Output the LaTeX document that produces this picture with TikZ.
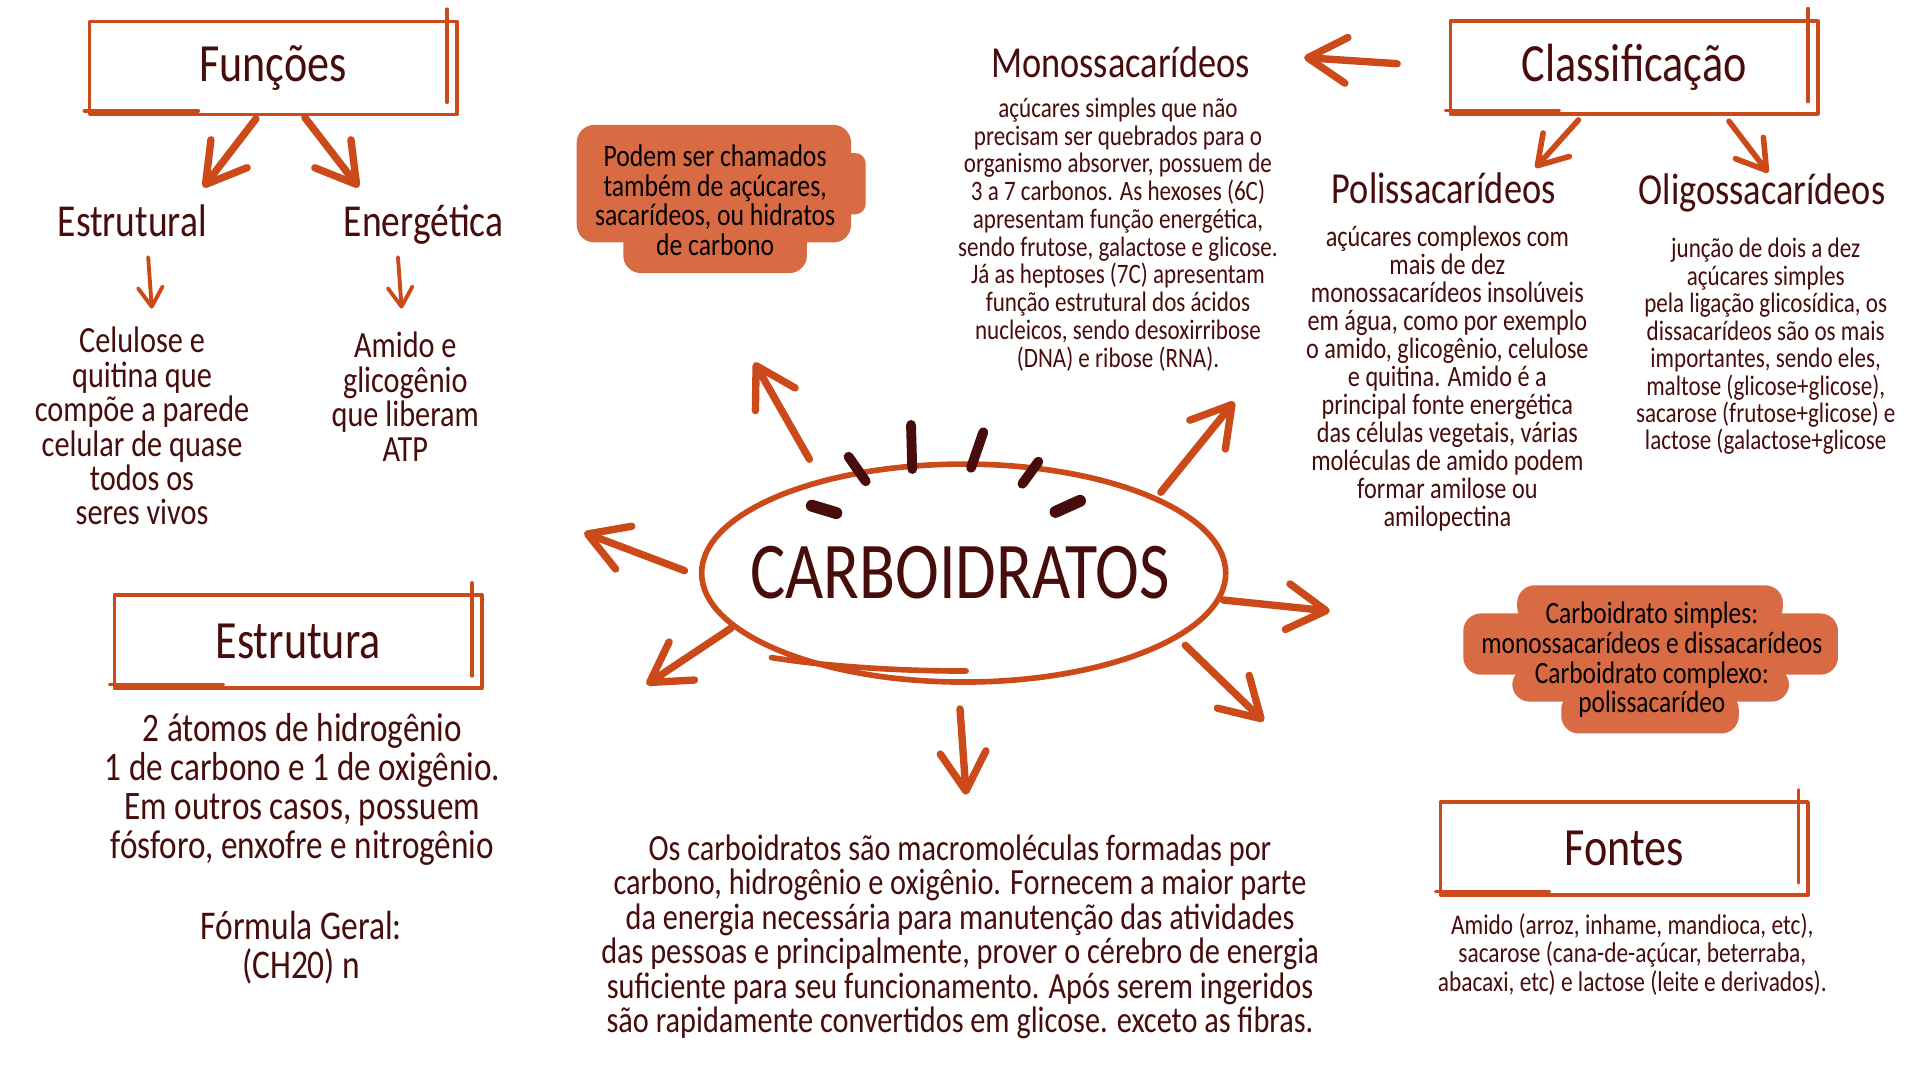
\documentclass[tikz,border=0pt]{standalone}
\usepackage{fontspec}
\setmainfont{Carlito}[FakeStretch=0.82]
\usetikzlibrary{arrows.meta,shapes.geometric,calc}

\definecolor{rust}{HTML}{CC4A1A}
\definecolor{ink}{HTML}{470C0C}
\definecolor{clay}{HTML}{D86A44}
\lineskiplimit=-100pt

\begin{document}
\begin{tikzpicture}[x=0.0122449cm, y=-0.0122449cm, line cap=round, line join=round,
    every node/.style={text=ink, inner sep=0pt, outer sep=0pt, align=center},
    titlebox/.style={draw=rust, line width=1pt, minimum width=3.673cm, minimum height=0.931cm,
      font=\fontsize{15.3}{17}\selectfont},
    sketch/.style={draw=rust, line width=1pt},
    subtitle/.style={font=\fontsize{13}{15}\selectfont, anchor=base},
    heading/.style={font=\fontsize{12.6}{14}\selectfont, anchor=base},
    bigarrow/.style={draw=rust, line width=2.1pt, -{Straight Barb[length=11pt, width=13pt, round]}},
    midarrow/.style={draw=rust, line width=1.6pt, -{Straight Barb[length=8pt, width=10pt, round]}},
    smallarrow/.style={draw=rust, line width=1.1pt, -{Straight Barb[length=5.5pt, width=7pt, round]}},
    tick/.style={draw=ink, line width=2.8pt},
    blob/.style={fill=clay, rounded corners=5pt}]

  % fundo (fixa a moldura)
  \fill[white] (0,0) rectangle (1568,882);

  % ================= caixas de título =================
  \node[titlebox] (funcoes) at (223,55.5) {Funções};
  \node[titlebox] (classif) at (1334.5,55) {Classificação};
  \node[titlebox] (estrutura) at (243.5,524) {Estrutura};
  \node[titlebox] (fontes) at (1326.5,693) {Fontes};
  % traços extras de "rascunho"
  \foreach \n in {funcoes,classif,estrutura,fontes} {
    \draw[sketch] ($(\n.north east)+(-8,-10)$) -- ($(\n.south east)+(-8,-10)$);
    \draw[sketch] ($(\n.south west)+(-4,-3)$) -- ($(\n.south west)+(89,-3)$);
  }

  % ================= Funções =================
  \node[subtitle] (estrutural) at (108,193) {Estrutural};
  \node[subtitle] (energetica) at (346,193) {Energética};
  \node[font=\fontsize{10.5}{9.8}\selectfont] (celulose) at (116,348)
    {Celulose e\\quitina que\\compõe a parede\\celular de quase\\todos os\\seres vivos};
  \node[font=\fontsize{10.5}{9.8}\selectfont] (amido) at (331,324)
    {Amido e\\glicogênio\\que liberam\\ATP};

  \coordinate (fa) at (209,97);  \coordinate (faT) at (166,153);
  \coordinate (fb) at (249,96);  \coordinate (fbT) at (293,153);
  \coordinate (ea) at (121,210); \coordinate (eaT) at (124,252);
  \coordinate (eb) at (325,210); \coordinate (ebT) at (328,252);
  \draw[bigarrow] (fa) -- (faT);
  \draw[bigarrow] (fb) -- (fbT);
  \draw[smallarrow] (ea) -- (eaT);
  \draw[smallarrow] (eb) -- (ebT);

  % ================= Estrutura =================
  \node[font=\fontsize{11.5}{11.1}\selectfont] (estrtxt) at (247,645)
    {2 átomos de hidrogênio\\1 de carbono e 1 de oxigênio.\\Em outros casos, possuem\\fósforo, enxofre e nitrogênio};
  \node[font=\fontsize{11.6}{10.9}\selectfont] (formula) at (246,774)
    {Fórmula Geral:\\(CH20) n};

  % ================= caixa laranja: sinônimos =================
  \fill[blob] (471,102) rectangle (695,198);
  \fill[blob, rounded corners=3pt] (685,125) rectangle (707,175);
  \fill[blob] (509,185) rectangle (659,223);
  \node[font=\fontsize{8.9}{8.5}\selectfont, text=black] (podem) at (584,163.5)
    {Podem ser chamados\\também de açúcares,\\sacarídeos, ou hidratos\\de carbono};

  % ================= Monossacarídeos =================
  \node[heading] (mono) at (915,63) {Monossacarídeos};
  \node[font=\fontsize{8}{7.9}\selectfont] (monotxt) at (913,191.5)
    {açúcares simples que não\\precisam ser quebrados para o\\organismo absorver, possuem de\\3 a 7 carbonos. As hexoses (6C)\\apresentam função energética,\\sendo frutose, galactose e glicose.\\Já as heptoses (7C) apresentam\\função estrutural dos ácidos\\nucleicos, sendo desoxirribose\\(DNA) e ribose (RNA).};

  % ================= Classificação =================
  \node[heading] (poli) at (1179,166) {Polissacarídeos};
  \node[heading] (oligo) at (1439,167) {Oligossacarídeos};
  \node[font=\fontsize{8.4}{7.95}\selectfont] (politxt) at (1182,309)
    {açúcares complexos com\\mais de dez\\monossacarídeos insolúveis\\em água, como por exemplo\\o amido, glicogênio, celulose\\e quitina. Amido é a\\principal fonte energética\\das células vegetais, várias\\moléculas de amido podem\\formar amilose ou\\amilopectina};
  \node[font=\fontsize{8}{7.8}\selectfont] (oligotxt) at (1442,283)
    {junção de dois a dez\\açúcares simples\\pela ligação glicosídica, os\\dissacarídeos são os mais\\importantes, sendo eles,\\maltose (glicose+glicose),\\sacarose (frutose+glicose) e\\lactose (galactose+glicose};

  \coordinate (ca) at (1141,52);  \coordinate (caT) at (1065,47);
  \coordinate (cb) at (1289,98);  \coordinate (cbT) at (1254,137);
  \coordinate (cc) at (1412,99);  \coordinate (ccT) at (1444,141);
  \draw[bigarrow] (ca) -- (caT);
  \draw[midarrow] (cb) -- (cbT);
  \draw[midarrow] (cc) -- (ccT);

  % ================= caixa laranja: simples x complexo =================
  \fill[blob] (1195,501) rectangle (1501,551);
  \fill[blob] (1239,478) rectangle (1456,510);
  \fill[blob] (1235,545) rectangle (1461,573);
  \fill[blob] (1275,565) rectangle (1420,599);
  \node[font=\fontsize{8.8}{8.4}\selectfont, text=black] (simples) at (1349,539)
    {Carboidrato simples:\\monossacarídeos e dissacarídeos\\Carboidrato complexo:\\polissacarídeo};

  % ================= Fontes =================
  \node[font=\fontsize{8.1}{8}\selectfont] (fontestxt) at (1333,779.5)
    {Amido (arroz, inhame, mandioca, etc),\\sacarose (cana-de-açúcar, beterraba,\\abacaxi, etc) e lactose (leite e derivados).};

  % ================= centro: CARBOIDRATOS =================
  \node[font=\fontsize{22.9}{25}\selectfont] (carb) at (784,468) {CARBOIDRATOS};
  \draw[rust, line width=1.6pt] (787,468) ellipse [x radius=214, y radius=89];
  \draw[rust, line width=1.6pt] (630,537) .. controls (680,545) and (740,548) .. (789,548);
  \foreach \xa/\ya/\xb/\yb in {693/373/707/393, 744/347/745/383, 803/353/793/382, 848/377/835/395}
    \draw[tick] (\xa,\ya) -- (\xb,\yb);
  \foreach \xa/\ya/\xb/\yb in {663/413/683/419, 862/418/882/409}
    \draw[tick, line width=3.4pt] (\xa,\ya) -- (\xb,\yb);

  \node[font=\fontsize{10.5}{9.8}\selectfont] (resumo) at (784,765)
    {Os carboidratos são macromoléculas formadas por\\carbono, hidrogênio e oxigênio. Fornecem a maior parte\\da energia necessária para manutenção das atividades\\das pessoas e principalmente, prover o cérebro de energia\\suficiente para seu funcionamento. Após serem ingeridos\\são rapidamente convertidos em glicose. exceto as fibras.};

  % setas que saem da elipse
  \coordinate (ua) at (661,375); \coordinate (uaT) at (616,296);
  \coordinate (ub) at (948,402); \coordinate (ubT) at (1008,328);
  \coordinate (la) at (559,466); \coordinate (laT) at (477,435);
  \coordinate (da) at (597,513); \coordinate (daT) at (528,559);
  \coordinate (ra) at (999,490); \coordinate (raT) at (1086,499);
  \coordinate (db) at (968,527); \coordinate (dbT) at (1032,589);
  \coordinate (dc) at (784,579); \coordinate (dcT) at (789,649);
  \foreach \s in {ua,ub,la,da,ra,db,dc}
    \draw[bigarrow] (\s) -- (\s T);

\end{tikzpicture}
\end{document}
